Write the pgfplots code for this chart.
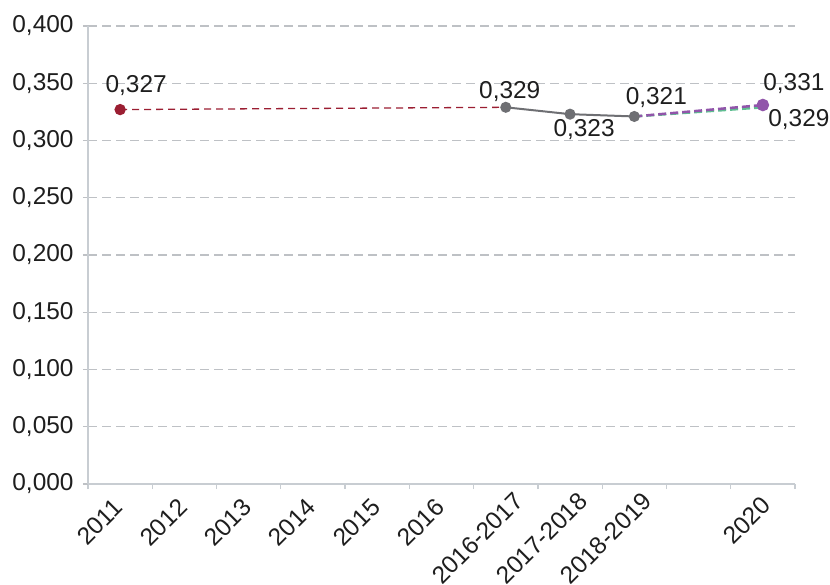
\documentclass[border=0pt]{standalone}
\usepackage{fontspec}
\setmainfont{Liberation Sans}
\usepackage{pgfplots}
\pgfplotsset{compat=1.18}
\definecolor{cred}{RGB}{155,30,50}
\definecolor{cgray}{RGB}{110,111,115}
\definecolor{cpurple}{RGB}{145,85,170}
\definecolor{cgreen}{RGB}{95,190,145}
\definecolor{caxis}{RGB}{200,205,210}
\definecolor{cgrid}{RGB}{190,193,197}
\definecolor{ctext}{RGB}{30,30,30}
\begin{document}
\begin{tikzpicture}
\path[use as bounding box] (0,0) rectangle (830bp,-585bp);
\begin{axis}[
  at={(88bp,-484bp)}, anchor=south west,
  scale only axis, width=707bp, height=458bp,
  xmin=-0.5, xmax=10.5, ymin=0, ymax=0.4,
  clip=false,
  axis x line*=bottom, axis y line*=left,
  axis line style={caxis, line width=1.5bp, -},
  font=\fontsize{24.5}{28}\selectfont,
  xtick={0,...,10},
  xticklabels={2011,2012,2013,2014,2015,2016,2016-2017,2017-2018,2018-2019,,2020},
  major x tick style={draw=none},
  minor xtick={-0.5,0.5,...,10.5},
  minor tick length=5bp,
  minor x tick style={caxis, line width=1.2bp},
  xticklabel style={
    xshift={ifthenelse(\ticknum<6,-7.7,ifthenelse(\ticknum<9,7,-2.8))},
    yshift={ifthenelse(\ticknum<6,-8,ifthenelse(\ticknum<9,-1.5,-6))},
    rotate=45, anchor=north east, inner sep=0pt, text=ctext},
  ytick={0,0.05,...,0.4},
  ymajorgrids,
  grid style={cgrid, line width=1.2bp, dash pattern=on 9bp off 5bp},
  major y tick style={cgrid, line width=1.2bp},
  major tick length=5bp,
  tick align=outside,
  yticklabel style={/pgf/number format/.cd, fixed, fixed zerofill, precision=3, use comma, assume math mode=true, /tikz/.cd, text=ctext, xshift=-6bp},
]
\addplot[cred, line width=1.3bp, dash pattern=on 7bp off 5bp, mark=*, mark size=5bp, mark indices={1}, mark options={solid}] coordinates {(0,0.327) (6,0.329)};
\addplot[cgreen, line width=2.5bp, dash pattern=on 8bp off 4bp, mark=none] coordinates {(8,0.321) (10,0.329)};
\addplot[cpurple, line width=2.5bp, dash pattern=on 8bp off 4bp, mark=*, mark size=5bp, mark indices={2}, mark options={solid}] coordinates {(8,0.321) (10,0.331)};
\addplot[cgray, line width=2bp, mark=*, mark size=4.5bp, mark options={solid}] coordinates {(6,0.329) (7,0.323) (8,0.321)};
\node[text=ctext, xshift=16bp, yshift=24bp] at (axis cs:0,0.327) {0,327};
\node[text=ctext, xshift=4bp, yshift=16bp] at (axis cs:6,0.329) {0,329};
\node[text=ctext, xshift=14bp, yshift=-15bp] at (axis cs:7,0.323) {0,323};
\node[text=ctext, xshift=22bp, yshift=19bp] at (axis cs:8,0.321) {0,321};
\node[text=ctext, xshift=31bp, yshift=21bp] at (axis cs:10,0.331) {0,331};
\node[text=ctext, xshift=36bp, yshift=-12bp] at (axis cs:10,0.329) {0,329};
\end{axis}
\end{tikzpicture}
\end{document}
